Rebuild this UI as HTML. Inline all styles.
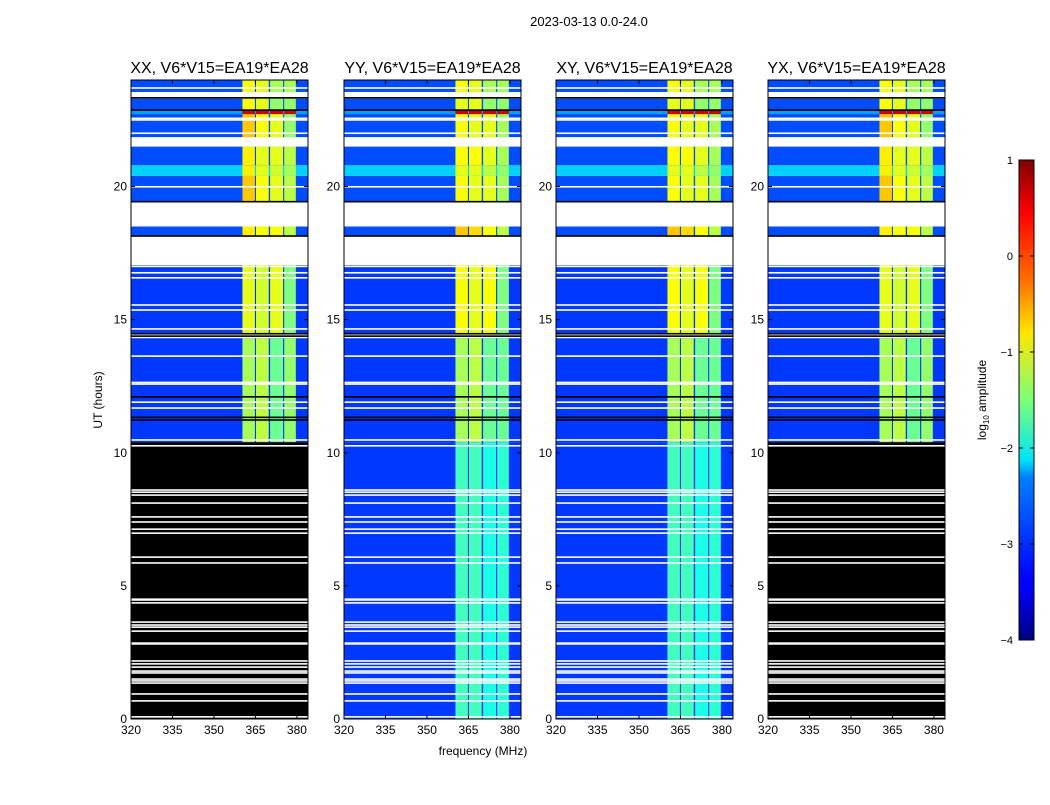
<!DOCTYPE html>
<html><head><meta charset="utf-8"><style>
body{margin:0;background:#fff}
svg text{font-family:"Liberation Sans",sans-serif;fill:#000}
</style></head><body>
<svg id="fig" width="1050" height="800" viewBox="0 0 1050 800" xmlns="http://www.w3.org/2000/svg">
<defs>
<linearGradient id="jet" x1="0" y1="1" x2="0" y2="0">
<stop offset="0" stop-color="#000080"/><stop offset="0.11" stop-color="#0000ff"/><stop offset="0.125" stop-color="#0000ff"/>
<stop offset="0.34" stop-color="#0080ff"/><stop offset="0.375" stop-color="#00e4f8"/><stop offset="0.5" stop-color="#7cff79"/>
<stop offset="0.64" stop-color="#ffe600"/><stop offset="0.75" stop-color="#ff6f00"/><stop offset="0.89" stop-color="#ff0000"/><stop offset="1" stop-color="#800000"/>
</linearGradient>
</defs>
<text x="589" y="26" font-size="13" text-anchor="middle">2023-03-13 0.0-24.0</text>
<text x="483" y="755" font-size="12" text-anchor="middle">frequency (MHz)</text>
<text transform="translate(102,400) rotate(-90)" font-size="12" text-anchor="middle">UT (hours)</text>
<g id="panels"></g>
<g id="cbar">
<rect x="1019" y="160" width="15" height="480" fill="url(#jet)" stroke="#000" stroke-width="1"/>
</g>
<text transform="translate(986,400) rotate(-90)" font-size="12" text-anchor="middle">log<tspan font-size="8" dy="3">10</tspan><tspan dy="-3"> amplitude</tspan></text>
</svg>
<script>
const panelTitles = ["XX, V6*V15=EA19*EA28","YY, V6*V15=EA19*EA28","XY, V6*V15=EA19*EA28","YX, V6*V15=EA19*EA28"];
const xTicks = [320,335,350,365,380];
const yTicks = [0,5,10,15,20];
const cbTicks = [1,0,-1,-2,-3,-4];
const bands = [[360.3,364.8],[365.2,369.8],[370.3,375],[375.4,379.6]];
// sections: [t0,t1], background level, band levels per panel group
const sectionT = [[0,10.4],[10.4,14.3],[14.45,17.05],[18.15,18.5],[19.4,20.4],[20.4,20.8],[20.8,21.5],[21.85,22.72],[22.72,22.85],[22.85,23.3],[23.55,24]];
const sectionBg = [-3.1,-3.1,-3.1,-3.0,-3.0,-2.35,-3.0,-3.0,0.6,-3.0,-3.0];
const sectionBandsXX = [null,[-1.3,-1.2,-1.6,-1.4],[-1.0,-1.1,-1.0,-1.5],[-0.8,-0.9,-0.9,-1.2],[-0.6,-0.9,-1.0,-1.2],[-0.8,-1.0,-1.1,-1.3],[-0.8,-1.0,-1.0,-1.2],[-0.6,-0.9,-1.0,-1.4],[0.6,0.6,0.6,0.6],[-0.9,-1.0,-1.4,-1.4],[-0.9,-1.0,-1.3,-1.3]];
const sectionBandsYY = [[-1.8,-1.8,-2.0,-1.9],[-1.3,-1.2,-1.6,-1.6],[-0.9,-1.0,-0.9,-1.5],[-0.6,-0.7,-0.9,-1.2],[-0.9,-1.0,-1.0,-1.3],[-1.0,-1.0,-1.2,-1.4],[-0.9,-0.9,-1.0,-1.3],[-0.9,-1.0,-1.0,-1.3],[0.6,0.6,0.6,0.6],[-1.0,-1.0,-1.4,-1.4],[-0.9,-1.0,-1.3,-1.3]];
const blackPanels = [true,false,false,true];
const whiteSpans = [[17.05,18.15],[18.5,19.4],[21.5,21.85],[23.3,23.55]];
const whiteLines = [0.08,0.68,0.94,1.35,1.43,1.5,1.73,1.8,1.95,2.07,2.18,2.82,2.85,3.3,3.45,3.53,3.64,4.36,4.47,4.5,5.86,6.08,6.98,7.13,7.4,7.59,8.11,8.41,8.52,8.6,10.26,10.48,11.68,11.9,12.58,12.64,13.63,14.65,15.36,15.55,16.57,16.76,17.0,19.99,22.0,22.5,22.56,23.7];
const blackLines = [11.23,11.33,12.1,19.43,22.87,18.14,14.38,14.47,23.33];

const NS="http://www.w3.org/2000/svg";
const px0=[131,344,556,768], PW=177, TOP=80, BOT=719;
function yS(h){return BOT-h*(BOT-TOP)/24;}
function xS(p,f){return px0[p]+(f-320)*PW/64;}
function jet(val){let v=(val+4)/5;v=Math.max(0,Math.min(1,v));
 const c=t=>Math.round(255*Math.max(0,Math.min(1,1.5-Math.abs(t))));
 return `rgb(${c(4*v-3)},${c(4*v-2)},${c(4*v-1)})`;}
function el(tag,attrs,parent){const e=document.createElementNS(NS,tag);for(const k in attrs)e.setAttribute(k,attrs[k]);parent.appendChild(e);return e;}
const root=document.getElementById('panels');
for(let p=0;p<4;p++){
 const g=el('g',{},root);
 
 
 el('rect',{x:px0[p],y:TOP,width:PW,height:BOT-TOP,fill:'#fff'},g);
 const bl=(p===0||p===3)?sectionBandsXX:sectionBandsYY;
 for(let s=0;s<sectionT.length;s++){
  const [t0,t1]=sectionT[s];const y0=yS(t1),h=yS(t0)-yS(t1);
  if(s===0&&blackPanels[p]){const r=el('rect',{x:px0[p],y:y0,width:PW,height:h,fill:'#000'},g);
   continue;}
  const bgv = s===8 ? -2.6 : sectionBg[s];
  const r=el('rect',{x:px0[p],y:y0,width:PW,height:h,fill:jet(bgv)},g);
  
  const lv=bl[s]||sectionBandsYY[s];
  for(let b=0;b<bands.length;b++){
   const x0=xS(p,bands[b][0]),x1=xS(p,bands[b][1]);
   const br=el('rect',{x:x0,y:y0,width:x1-x0,height:h,fill:jet(lv[b])},g);
   
  }
 }
 for(const [a,b] of whiteSpans){const r=el('rect',{x:px0[p],y:yS(b),width:PW,height:yS(a)-yS(b),fill:'#fff'},g);
  }
 for(const h of whiteLines){const r=el('rect',{x:px0[p],y:yS(h)-0.8,width:PW,height:1.6,fill:'#fff'},g);
  }
 for(const h of blackLines){const r=el('rect',{x:px0[p],y:yS(h)-0.8,width:PW,height:1.6,fill:'#000'},g);
  }
 const fr=el('rect',{x:px0[p],y:TOP,width:PW,height:BOT-TOP,fill:'none',stroke:'#000','stroke-width':1},g);
 
 const t=el('text',{x:px0[p]+PW/2,y:73,'font-size':16,'text-anchor':'middle'},g);t.textContent=panelTitles[p];
 
 for(const f of xTicks){const x=xS(p,f);
  el('line',{x1:x,x2:x,y1:BOT,y2:BOT-4,stroke:'#000'},g);el('line',{x1:x,x2:x,y1:TOP,y2:TOP+4,stroke:'#000'},g);
  const tl=el('text',{x:x,y:BOT+15,'font-size':12,'text-anchor':'middle'},g);tl.textContent=f;
  }
 for(const h of yTicks){const y=yS(h);
  el('line',{x1:px0[p],x2:px0[p]+4,y1:y,y2:y,stroke:'#000'},g);el('line',{x1:px0[p]+PW,x2:px0[p]+PW-4,y1:y,y2:y,stroke:'#000'},g);
  const tl=el('text',{x:px0[p]-4,y:y+4,'font-size':12,'text-anchor':'end'},g);tl.textContent=h;
  }
}
const cb=document.getElementById('cbar');
for(const v of cbTicks){const y=160+(1-v)*96;
 el('line',{x1:1019,x2:1023,y1:y,y2:y,stroke:'#000'},cb);el('line',{x1:1030,x2:1034,y1:y,y2:y,stroke:'#000'},cb);
 const tl=el('text',{x:1013,y:y+4,'font-size':11,'text-anchor':'end'},cb);tl.textContent=String(v).replace('-','\u2212');
 }
</script>
</body></html>
